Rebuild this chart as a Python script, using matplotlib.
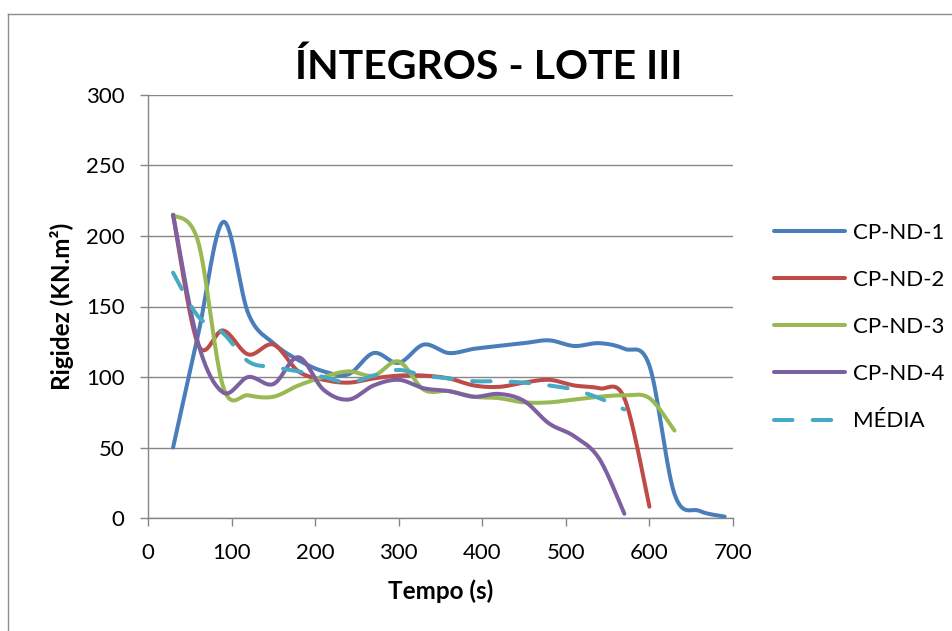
import numpy as np
import matplotlib
matplotlib.use("Agg")
import matplotlib.pyplot as plt
from matplotlib.lines import Line2D

plt.rcParams['font.family'] = ['Lato', 'DejaVu Sans']

tempo = [30, 60, 90, 120, 150, 180, 210, 240, 270, 300, 330, 360, 390, 420,
         450, 480, 510, 540, 570, 600, 630, 660, 690]

cp_nd_1 = [50, 130, 210, 145, 124, 112, 104, 102, 117, 110, 123, 117, 120, 122,
           124, 126, 122, 124, 120, 108, 17, 5, 1]
cp_nd_2 = [215, 123, 133, 116, 123, 104, 98, 96, 99, 101, 101, 99, 94, 93,
           96, 98, 94, 92, 85, 8]
cp_nd_3 = [215, 196, 93, 87, 86, 94, 100, 104, 101, 111, 91, 90, 86, 85,
           82, 82, 84, 86, 87, 85, 62]
cp_nd_4 = [215, 124, 89, 100, 95, 114, 91, 84, 94, 98, 92, 90, 86, 88,
           83, 67, 58, 42, 3]
media = [174, 143, 131, 111, 107, 104, 100, 96, 101, 105, 101, 99, 97, 97,
         96, 94, 91, 85, 77]

series_names = ['CP-ND-1', 'CP-ND-2', 'CP-ND-3', 'CP-ND-4', 'MÉDIA']
series_values = [cp_nd_1, cp_nd_2, cp_nd_3, cp_nd_4, media]
colors = ['#4a7ebb', '#be4b48', '#98b954', '#7d60a0', '#46aac5']

x_ticks = [0, 100, 200, 300, 400, 500, 600, 700]
y_ticks = [0, 50, 100, 150, 200, 250, 300]


def smooth(xs, ys, n=30):
    """Excel-like smoothed line: cubic Bezier through points (Catmull-Rom 1/6)."""
    P = np.column_stack([xs, ys]).astype(float)
    m = len(P)
    out = []
    for i in range(m - 1):
        p0 = P[i - 1] if i > 0 else P[i]
        p1 = P[i]
        p2 = P[i + 1]
        p3 = P[i + 2] if i + 2 < m else P[i + 1]
        c1 = p1 + (p2 - p0) / 6.0
        c2 = p2 - (p3 - p1) / 6.0
        t = np.linspace(0, 1, n, endpoint=(i == m - 2))[:, None]
        b = ((1 - t) ** 3) * p1 + 3 * ((1 - t) ** 2) * t * c1 + 3 * (1 - t) * t ** 2 * c2 + t ** 3 * p2
        out.append(b)
    out = np.vstack(out)
    return out[:, 0], out[:, 1]


W, H = 953, 631
fig = plt.figure(figsize=(W / 100, H / 100), dpi=100)
ax = fig.add_axes([148 / W, (H - 518) / H, (733 - 148) / W, (518 - 95) / H])

gray = '#868686'
lw = 2.9
for name, vals, c in zip(series_names, series_values, colors):
    xs = tempo[:len(vals)]
    sx, sy = smooth(xs, vals)
    if name == 'MÉDIA':
        ax.plot(sx, sy, color=c, lw=lw, label=name, dashes=(4.6, 5.0),
                dash_capstyle='round', solid_capstyle='round', zorder=3)
    else:
        ax.plot(sx, sy, color=c, lw=lw, label=name, solid_capstyle='round', zorder=3)

ax.set_xlim(0, 700)
ax.set_ylim(0, 300)
ax.set_xticks(x_ticks)
ax.set_yticks(y_ticks)
ax.yaxis.grid(True, color=gray, lw=1.0)
ax.set_axisbelow(True)
for s in ['top', 'right']:
    ax.spines[s].set_visible(False)
for s in ['left', 'bottom']:
    ax.spines[s].set_color(gray)
    ax.spines[s].set_linewidth(1.0)
ax.tick_params(axis='both', direction='out', length=5.8, width=1.0, color=gray,
               labelsize=16, labelcolor='black')
ax.tick_params(axis='y', pad=11)
ax.tick_params(axis='x', pad=12)

ax.set_xlabel('Tempo (s)', fontsize=17.5, fontweight='bold', labelpad=12)
ax.set_ylabel('Rigidez (KN.m²)', fontsize=17.5, fontweight='bold', labelpad=9)

fig.text(489 / W, 1 - 79 / H, 'ÍNTEGROS - LOTE III', ha='center', va='baseline',
         fontsize=29.5, fontweight='bold')

leg = ax.legend(loc='upper left', bbox_to_anchor=(765 / W, 1 - 214 / H),
                bbox_transform=fig.transFigure, frameon=False, fontsize=16,
                handlelength=3.2, handletextpad=0.35, labelspacing=1.22,
                borderaxespad=0)

# outer chart border
fig.add_artist(Line2D([8.5 / W, 1], [1 - 13.5 / H, 1 - 13.5 / H], color='#8c8c8c', lw=1.0,
                      transform=fig.transFigure))
fig.add_artist(Line2D([8.5 / W, 8.5 / W], [0, 1 - 13.5 / H], color='#8c8c8c', lw=1.0,
                      transform=fig.transFigure))

fig.savefig('out.png', dpi=100)
